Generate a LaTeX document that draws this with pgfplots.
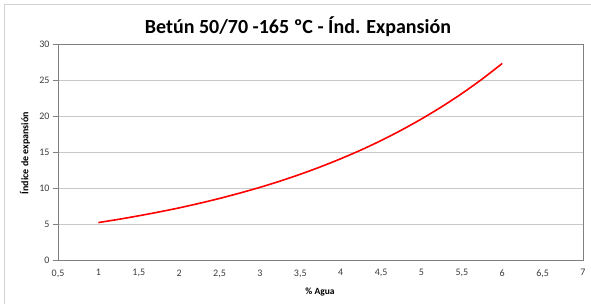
\documentclass[border=0pt]{standalone}
\usepackage{pgfplots}
\pgfplotsset{compat=1.18}
\usepackage{fontspec}
\setmainfont{Carlito}
\definecolor{gridgray}{RGB}{200,200,200}
\definecolor{framegray}{RGB}{128,128,128}
\definecolor{outergray}{RGB}{210,210,210}
\definecolor{ticktext}{RGB}{60,60,60}
\begin{document}
\begin{tikzpicture}[x=1pt,y=1pt]
\path[use as bounding box] (-58,-44) rectangle (533,260);
\draw[outergray, line width=1pt] (-53,-46) -- (-53,255) -- (540,255);
\begin{axis}[
  at={(0,0)}, anchor=south west,
  scale only axis, width=525pt, height=216pt,
  xmin=0.5, xmax=7, ymin=0, ymax=30,
  xtick={0.5,1,...,7}, ytick={0,5,...,30},
  xticklabels={0{,}5,1,1{,}5,2,2{,}5,3,3{,}5,4,4{,}5,5,5{,}5,6,6{,}5,7},
  /pgf/number format/assume math mode=true,
  tick label style={font=\fontsize{10}{12}\selectfont, text=ticktext},
  ymajorgrids, grid style={gridgray, line width=0.8pt},
  axis line style={framegray, line width=0.9pt},
  xtick style={draw=none},
  ytick style={framegray, line width=0.8pt},
  ytick pos=left,
  tick align=outside, major tick length=5pt,
  xticklabel style={yshift=-1pt},
  clip=false,
]
\addplot[red, line width=1.6pt, smooth] coordinates {
(1,5.2) (1.25,5.65) (1.5,6.14) (1.75,6.67) (2,7.24) (2.25,7.87) (2.5,8.55) (2.75,9.29)
(3,10.09) (3.25,10.96) (3.5,11.91) (3.75,12.94) (4,14.06) (4.25,15.27) (4.5,16.59)
(4.75,18.03) (5,19.59) (5.25,21.28) (5.5,23.12) (5.75,25.12) (6,27.3)
};
\end{axis}
\node[font=\bfseries\fontsize{20}{23}\selectfont] at (240,233) {Betún 50/70 -165 ºC - Índ. Expansión};
\node[font=\bfseries\fontsize{10}{12}\selectfont, rotate=90] at (-33,107) {Índice de expansión};
\node[font=\bfseries\fontsize{9.5}{11}\selectfont] at (262,-32) {\% Agua};
\end{tikzpicture}
\end{document}
